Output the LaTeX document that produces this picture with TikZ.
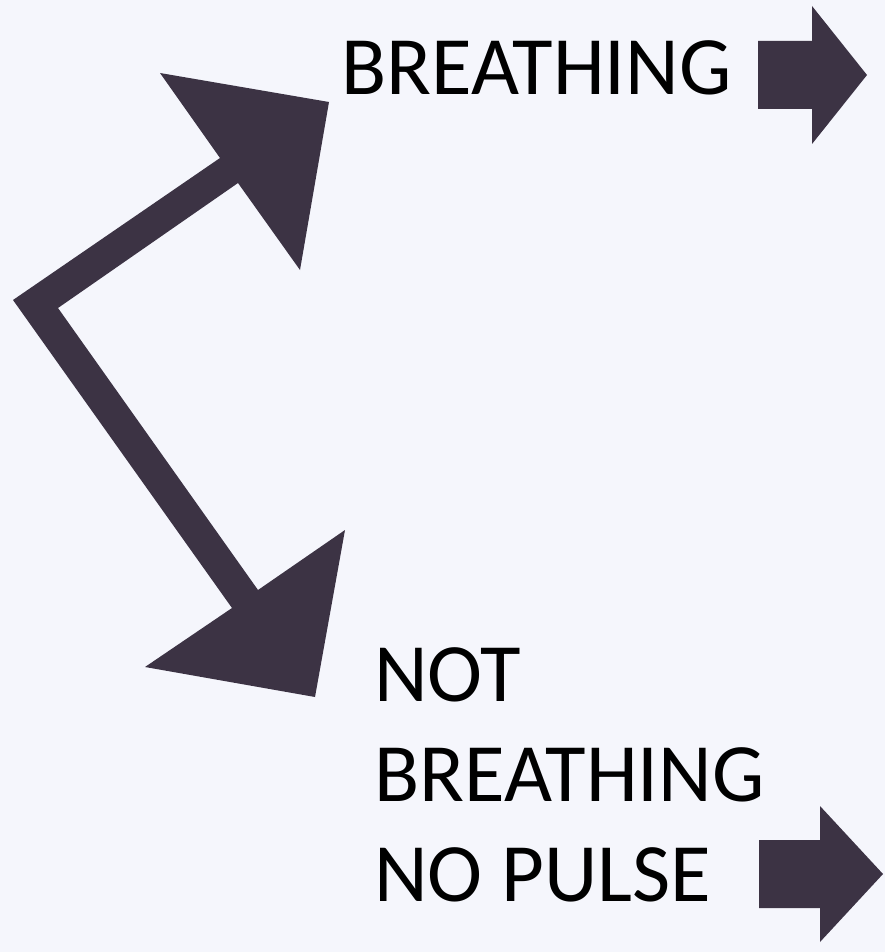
\documentclass[tikz,border=0pt]{standalone}
\usepackage{fontspec}
\setmainfont{Carlito}
\usetikzlibrary{positioning}

\definecolor{pagebg}{HTML}{F5F6FC}
\definecolor{arrowdark}{HTML}{3C3344}

\begin{document}
\begin{tikzpicture}[x=1pt, y=-1pt,
    bigtext/.style={black, inner sep=0pt, font=\fontsize{83}{100}\selectfont},
    arrowfill/.style={fill=arrowdark}]
        \fill[pagebg] (0,0) rectangle (885,952);
        \useasboundingbox (0,0) rectangle (885,952);

        % the forked arrow
        \fill[arrowfill]
        (160,73) --
        (329,102) --
        (300,270) --
        (238,183) --
        (58,308) --
        (258,590) --
        (345,530) --
        (315,697) --
        (145,667) --
        (232,608) --
        (13,300) --
        (220,158) --
        cycle;

        % outcome arrows
        \fill[arrowfill]
        (758,41) --
        (812,41) --
        (812,6) --
        (867,75) --
        (812,144) --
        (812,109) --
        (758,109) --
        cycle;

        \fill[arrowfill]
        (759,840) --
        (820,840) --
        (820,806) --
        (883,874) --
        (820,942) --
        (820,908) --
        (759,908) --
        cycle;

	\node[bigtext, anchor=base west] (breathing) at (341,95) {BREATHING};

	\node[bigtext, anchor=north west, align=left] (notbreathing) at (374,647) {NOT\\BREATHING\\NO PULSE};

\end{tikzpicture}
\end{document}
